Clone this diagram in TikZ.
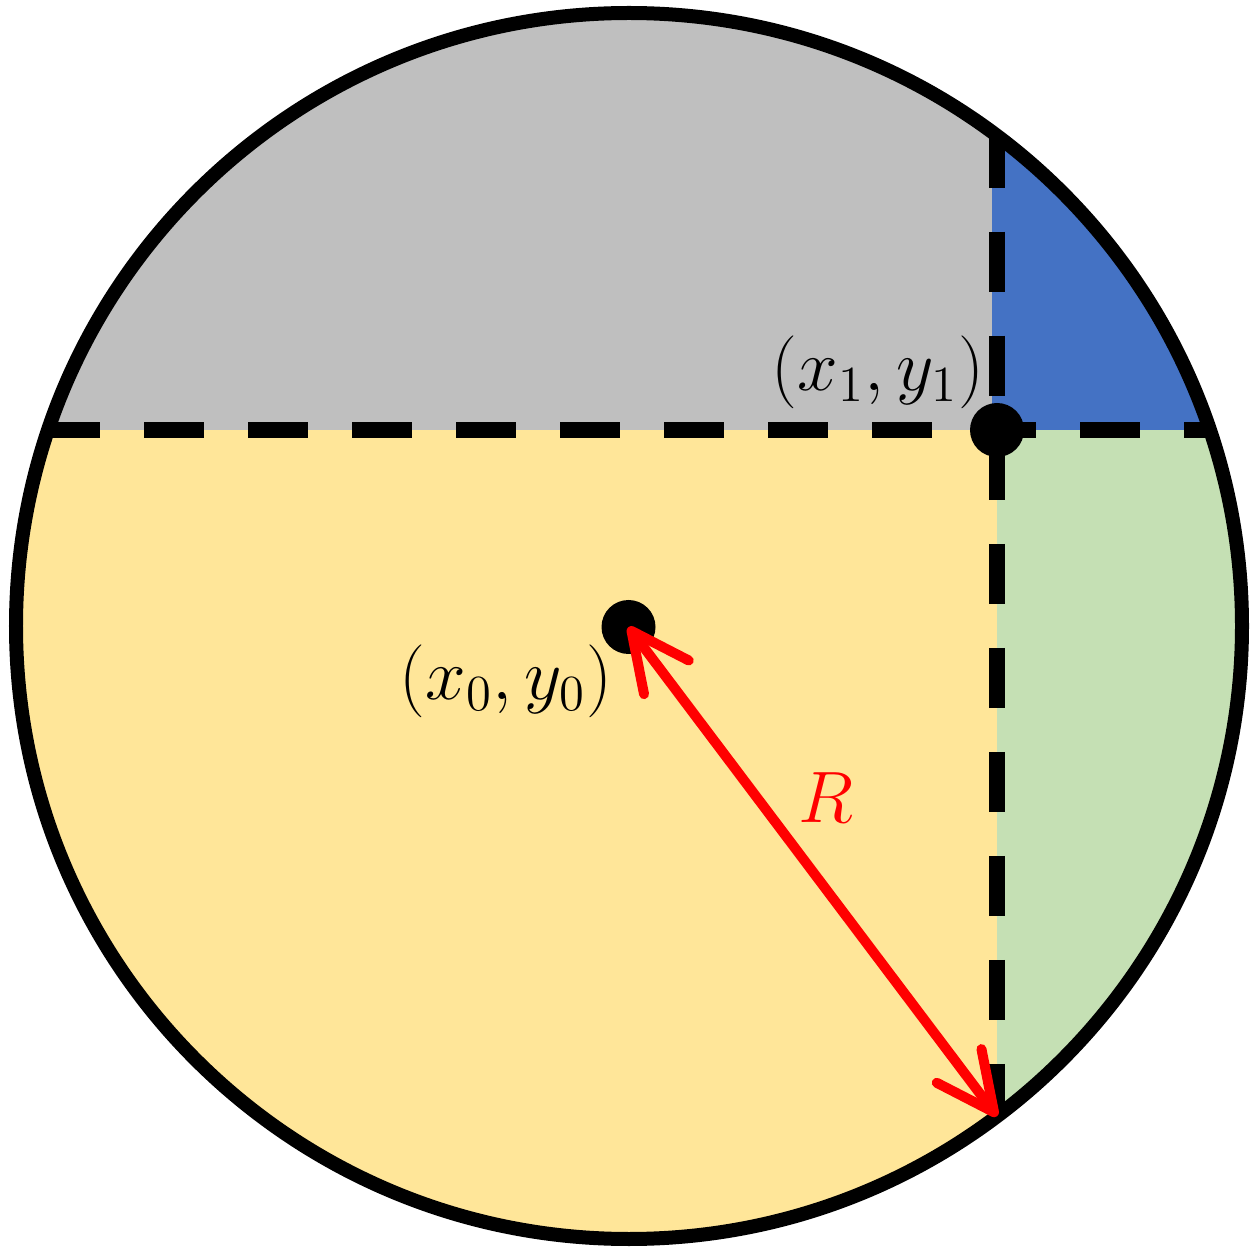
\documentclass[tikz,border=0pt]{standalone}
\usetikzlibrary{arrows.meta,calc,positioning}

\definecolor{regionGray}{HTML}{BFBFBF}
\definecolor{regionBlue}{HTML}{4472C4}
\definecolor{regionYellow}{HTML}{FFE699}
\definecolor{regionGreen}{HTML}{C5E0B4}

\begin{document}
\begin{tikzpicture}[
  line cap=butt,
  line join=round,
  rim/.style={draw=black, line width=0.14cm},
  split/.style={draw=black, line width=0.16cm, dash pattern=on 0.60cm off 0.44cm, dash phase=0.08cm},
  dot/.style={circle, fill=black, inner sep=0pt, minimum size=0.54cm},
  lbl/.style={inner sep=0pt, font=\fontsize{19.5}{23}\selectfont},
  radius arrow/.style={{Straight Barb[length=5.8mm,width=5.6mm,round]}-{Straight Barb[length=5.8mm,width=5.6mm,round]},
    draw=red, line width=0.1cm, line cap=round}
]

\useasboundingbox (0,0) rectangle (12.58,12.52);

\def\xc{6.29}
\def\yc{6.26}
\def\R{6.13}
\def\xa{9.97}
\def\ya{8.22}
\pgfmathsetmacro{\dxa}{sqrt(\R*\R-(\ya-\yc)*(\ya-\yc))}
\pgfmathsetmacro{\dya}{sqrt(\R*\R-(\xa-\xc)*(\xa-\xc))}

% Four regions cut by the two lines through (x1,y1).
\begin{scope}
  \clip (\xc,\yc) circle (\R);
  \fill[regionGray] (0,\ya) rectangle (\xa-0.05,12.52);
  \fill[regionBlue] (\xa-0.05,\ya) rectangle (12.58,12.52);
  \fill[regionYellow] (0,0) rectangle (\xa,\ya);
  \fill[regionGreen] (\xa,0) rectangle (12.58,\ya);
\end{scope}

% Outer circle.
\draw[rim] (\xc,\yc) circle (\R);

% Dashed split lines.
\draw[split] (\xc-\dxa,\ya) -- (\xc+\dxa,\ya);
\draw[split] (\xa,\yc+\dya) -- (\xa,\yc-\dya);

% Points and radius.
\node[dot] (c0) at (6.285,6.25) {};
\node[dot] (p1) at (\xa,\ya) {};
\coordinate (bottomRim) at (\xa,\yc-\dya);
\draw[radius arrow] (c0.center) -- (bottomRim);

% Labels.
\node[lbl] (c0Label) at (5.06,5.705) {$(x_0,y_0)$};
\node[lbl] (p1Label) at (8.78,8.795) {$(x_1,y_1)$};
\node[lbl, text=red] (radiusLabel) at (8.255,4.545) {$R$};

\end{tikzpicture}
\end{document}
